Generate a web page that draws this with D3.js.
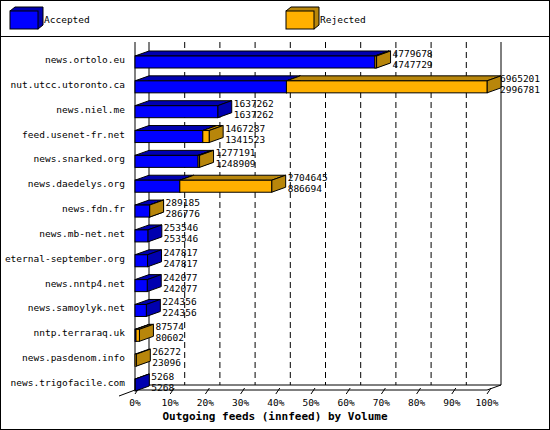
<!DOCTYPE html>
<html><head><meta charset="utf-8">
<script src="https://cdn.jsdelivr.net/npm/d3@7"></script>
<style>body{margin:0;background:#fff}text{font-family:"DejaVu Sans Mono",monospace;font-size:9.5px}</style>
</head><body><svg id="c" width="550" height="430"></svg>
<script>
// feeds, top to bottom
var hosts = ['news.ortolo.eu','nut.utcc.utoronto.ca','news.niel.me','feed.usenet-fr.net','news.snarked.org','news.daedelys.org','news.fdn.fr','news.mb-net.net','eternal-september.org','news.nntp4.net','news.samoylyk.net','nntp.terraraq.uk','news.pasdenom.info','news.trigofacile.com'];
var offered  = [4779678,6965201,1637262,1467287,1277191,2704645,289185,253546,247817,242077,224356,87574,26272,5268];
var shown    = [4747729,2996781,1637262,1341523,1248909,886694,286776,253546,247817,242077,224356,80602,23096,5268];
// accepted part of each bar as drawn (blue)
var accepted = [4747729,2996781,1637262,1341523,1248909,886694,286776,253546,247817,242077,224356,20000,0,5268];
var ticks = ['0%','10%','20%','30%','40%','50%','60%','70%','80%','90%','100%'];

var svg = d3.select('#c');
var dx = 14, dy = 5, bh = 12;
var x = d3.scaleLinear().domain([0, d3.max(offered)]).range([135, 487]);
var pct = d3.scaleLinear().domain([0, 100]).range([135, 487]);
var y = d3.scalePoint().domain(hosts).range([60, 383]);

svg.append('rect').attr('x',0.5).attr('y',0.5).attr('width',549).attr('height',429).attr('fill','none').attr('stroke','#000');
svg.append('line').attr('x1',0).attr('x2',550).attr('y1',36.5).attr('y2',36.5).attr('stroke','#000');

function box(g, x0, x1, yc, front, dark) {
  var t = yc - bh/2 + 2, b = t + bh;
  g.append('path').attr('d','M'+x0+','+t+'L'+(x0+dx)+','+(t-dy)+'L'+(x1+dx)+','+(t-dy)+'L'+x1+','+t+'Z')
    .attr('fill',dark).attr('stroke','#000');
  g.append('path').attr('d','M'+x1+','+t+'L'+(x1+dx)+','+(t-dy)+'L'+(x1+dx)+','+(b-dy)+'L'+x1+','+b+'Z')
    .attr('fill',dark).attr('stroke','#000');
  g.append('rect').attr('x',x0).attr('y',t).attr('width',x1-x0).attr('height',bh)
    .attr('fill',front).attr('stroke','#000');
}

// legend
var leg = svg.append('g');
[['Accepted','#0000ff','#0000b0',10],['Rejected','#ffb000','#b8860b',286]].forEach(function(l){
  leg.append('path').attr('d','M'+l[3]+',11L'+(l[3]+5)+',7L'+(l[3]+33)+',7L'+(l[3]+33)+',25L'+(l[3]+28)+',29Z').attr('fill',l[2]).attr('stroke','#000');
  leg.append('rect').attr('x',l[3]).attr('y',11).attr('width',28).attr('height',18).attr('fill',l[1]).attr('stroke','#000');
  leg.append('text').attr('x',l[3]+34).attr('y',23).text(l[0]);
});

// walls and floor
var w = svg.append('g').attr('stroke','#000').attr('fill','none');
w.append('line').attr('x1',135).attr('x2',135).attr('y1',42).attr('y2',390);
w.append('line').attr('x1',149).attr('x2',149).attr('y1',42).attr('y2',385);
w.append('line').attr('x1',501).attr('x2',501).attr('y1',42).attr('y2',385);
w.append('path').attr('d','M119,396L135,390L487,390L501,385L149,385L135,390');
ticks.forEach(function(t,i){
  var gx = pct(i*10)+dx;
  if (i>0 && i<10) w.append('line').attr('x1',gx+0.5).attr('x2',gx+0.5).attr('y1',42).attr('y2',385).attr('stroke-dasharray','6,4');
  w.append('line').attr('x1',pct(i*10)).attr('x2',pct(i*10)+4).attr('y1',394).attr('y2',388);
  svg.append('text').attr('x',pct(i*10)).attr('y',406).attr('text-anchor','middle').text(t);
});
svg.append('text').attr('x',275).attr('y',420).attr('text-anchor','middle').attr('font-weight','bold').style('font-size','11px')
  .text('Outgoing feeds (innfeed) by Volume');

// bars
hosts.forEach(function(h,i){
  var g = svg.append('g'), yc = y(h);
  var xa = x(accepted[i]), xo = x(offered[i]);
  if (accepted[i] > 0) box(g, x(0), xa, yc, '#0000ff', '#0000b0');
  if (offered[i] > accepted[i]) box(g, xa, xo, yc, '#ffb000', '#b8860b');
  svg.append('text').attr('x',125).attr('y',yc+3).attr('text-anchor','end').text(h);
  var lx = Math.min(xo+dx+2, 500);
  svg.append('text').attr('x',lx).attr('y',yc-3).text(offered[i]);
  svg.append('text').attr('x',lx).attr('y',yc+8).text(shown[i]);
});
</script></body></html>
